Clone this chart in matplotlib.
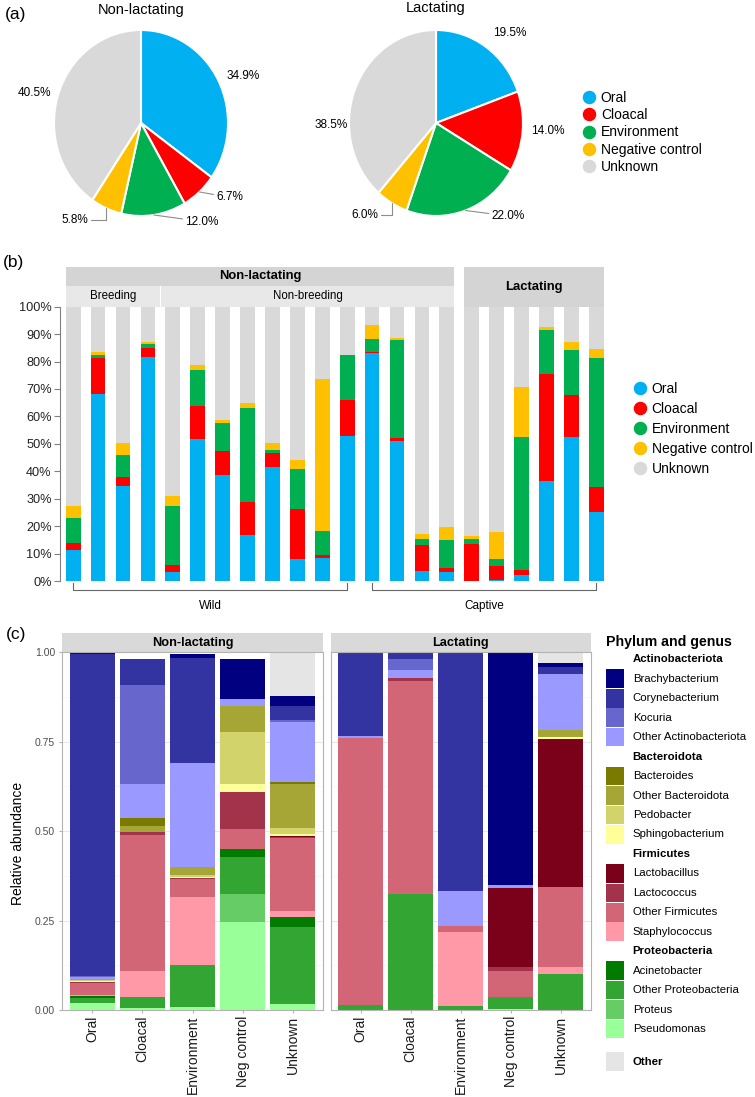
import numpy as np
import matplotlib
matplotlib.use("Agg")
import matplotlib.pyplot as plt
import matplotlib.transforms as mtransforms
from matplotlib.lines import Line2D
from matplotlib.patches import Rectangle

plt.rcParams['font.family'] = ['Liberation Sans', 'DejaVu Sans']

W, H = 755, 1097

# ---------------- data ----------------
sources = ['Oral', 'Cloacal', 'Environment', 'Negative control', 'Unknown']
source_colors = ['#00b0f0', '#ff0000', '#00b050', '#ffc000', '#d9d9d9']

# (a) mean source proportions (%)
pie_nonlact = [34.9, 6.7, 12.0, 5.8, 40.5]
pie_lact = [19.5, 14.0, 22.0, 6.0, 38.5]

# (b) per-sample source proportions (%), 16 non-lactating + 6 lactating
oral_b = [11.3, 68.0, 34.8, 81.8, 3.3, 51.8, 38.6, 16.8, 41.6, 8.0, 8.4, 53.0,
          83.0, 51.0, 3.8, 3.4, 0.0, 0.2, 2.2, 36.6, 52.4, 25.3]
cloacal_b = [2.4, 13.4, 3.0, 3.3, 2.7, 12.1, 8.9, 12.1, 4.9, 18.2, 1.1, 12.9,
             0.4, 1.2, 9.3, 1.5, 13.5, 5.4, 1.9, 38.7, 15.5, 8.8]
env_b = [9.4, 0.9, 8.1, 1.3, 21.5, 13.0, 10.2, 34.3, 1.3, 14.6, 8.7, 16.5,
         4.8, 35.5, 2.1, 10.0, 1.9, 2.4, 48.5, 16.2, 16.3, 47.1]
neg_b = [4.2, 1.2, 4.5, 0.6, 3.5, 1.8, 1.0, 1.8, 2.6, 3.4, 55.4, 0.0,
         5.2, 1.0, 1.8, 4.9, 1.1, 9.7, 18.2, 1.2, 2.8, 3.2]
unknown_b = list(100 - np.array(oral_b) - np.array(cloacal_b)
                 - np.array(env_b) - np.array(neg_b))

# (c) relative abundance per source group
# columns: non-lactating Oral..Unknown, then lactating Oral..Unknown
groups_c = ['Oral', 'Cloacal', 'Environment', 'Neg control', 'Unknown']
brachybacterium = [0.001, 0, 0.010, 0.111, 0.028, 0, 0, 0, 0.648, 0.011]
corynebacterium = [0.902, 0.072, 0.295, 0, 0.040, 0.232, 0.017, 0.663, 0, 0.022]
kocuria = [0.001, 0.278, 0, 0, 0.004, 0, 0.030, 0, 0, 0]
other_actino = [0.007, 0.095, 0.291, 0.019, 0.168, 0.005, 0.022, 0.099, 0.007, 0.155]
bacteroides = [0, 0.022, 0, 0, 0.007, 0, 0, 0, 0, 0]
other_bacteroidota = [0.003, 0.016, 0.021, 0.073, 0.121, 0, 0, 0, 0, 0.019]
pedobacter = [0.002, 0, 0.006, 0.145, 0.017, 0, 0, 0, 0, 0]
sphingobacterium = [0.002, 0, 0.003, 0.023, 0.006, 0, 0, 0, 0, 0.007]
lactobacillus = [0, 0, 0, 0, 0.003, 0, 0, 0, 0.223, 0.412]
lactococcus = [0.003, 0.008, 0.004, 0.102, 0.004, 0, 0.007, 0, 0.009, 0]
other_firmicutes = [0.035, 0.380, 0.050, 0.058, 0.204, 0.747, 0.597, 0.017, 0.073, 0.224]
staphylococcus = [0.002, 0.073, 0.189, 0, 0.017, 0, 0, 0.207, 0, 0.020]
acinetobacter = [0.005, 0, 0, 0.022, 0.026, 0, 0, 0, 0, 0]
other_proteo = [0.014, 0.032, 0.117, 0.104, 0.216, 0.013, 0.324, 0.011, 0.033, 0.101]
proteus = [0, 0, 0, 0.077, 0, 0, 0, 0, 0, 0]
pseudomonas = [0.020, 0.005, 0.009, 0.246, 0.017, 0, 0, 0, 0.004, 0]
other_c = [0, 0, 0, 0, 0.119, 0, 0, 0, 0, 0.026]

genera = [
    ('Brachybacterium', brachybacterium, '#000080'),
    ('Corynebacterium', corynebacterium, '#3333a1'),
    ('Kocuria', kocuria, '#6666cc'),
    ('Other Actinobacteriota', other_actino, '#9999ff'),
    ('Bacteroides', bacteroides, '#7a7a00'),
    ('Other Bacteroidota', other_bacteroidota, '#a6a637'),
    ('Pedobacter', pedobacter, '#d3d36b'),
    ('Sphingobacterium', sphingobacterium, '#ffff99'),
    ('Lactobacillus', lactobacillus, '#7b001a'),
    ('Lactococcus', lactococcus, '#a3334a'),
    ('Other Firmicutes', other_firmicutes, '#d26677'),
    ('Staphylococcus', staphylococcus, '#ff99a8'),
    ('Acinetobacter', acinetobacter, '#007b00'),
    ('Other Proteobacteria', other_proteo, '#33a533'),
    ('Proteus', proteus, '#66cc66'),
    ('Pseudomonas', pseudomonas, '#99ff99'),
]
other_color = '#e5e5e5'
phyla = {'Actinobacteriota': 0, 'Bacteroidota': 4, 'Firmicutes': 8, 'Proteobacteria': 12}


def box(x0, y0, x1, y1):
    # pixel box (top-left origin) -> figure fraction rect
    return [x0 / W, 1 - y1 / H, (x1 - x0) / W, (y1 - y0) / H]


fig = plt.figure(figsize=(W / 100, H / 100), dpi=100)

# ---------------- (a) pies ----------------
RX, RY = 87, 93


def draw_pie(cx, cy, vals, title, title_y, label_pos, leaders):
    ax = fig.add_axes(box(cx - 1.35 * RX, cy - 1.35 * RY, cx + 1.35 * RX, cy + 1.35 * RY))
    ax.pie(vals, colors=source_colors, startangle=90, counterclock=False, radius=1,
           wedgeprops=dict(edgecolor='white', linewidth=1.5))
    ax.set_aspect('auto')
    ax.set_xlim(-1.35, 1.35)
    ax.set_ylim(-1.35, 1.35)
    ax.axis('off')
    cum = np.concatenate([[0], np.cumsum(vals)])
    total = sum(vals)
    for i, v in enumerate(vals):
        mid = np.deg2rad(90 - (cum[i] + v / 2) / total * 360)
        tx, ty = label_pos[i]
        if leaders[i]:
            ax.annotate(f'{v:.1f}%', xy=(np.cos(mid), np.sin(mid)), xytext=(tx, ty),
                        ha='center', va='center', fontsize=8.5,
                        arrowprops=dict(arrowstyle='-', color='#8c8c8c', lw=0.8,
                                        shrinkA=0, shrinkB=0, connectionstyle=leaders[i]))
        else:
            ax.text(tx, ty, f'{v:.1f}%', ha='center', va='center', fontsize=8.5)
    # title sits above the pie (pixel offset from centre -> pie units)
    ax.text(0, (cy - title_y) / RY, title, ha='center', va='center', fontsize=10.5)


draw_pie(141, 123, pie_nonlact, 'Non-lactating', 10,
         [(1.17, 0.51), (1.02, -0.80), (0.70, -1.06), (-0.76, -1.04), (-1.23, 0.32)],
         [None, 'arc3', 'arc3', 'angle,angleA=0,angleB=90', None])
draw_pie(436, 123, pie_lact, 'Lactating', 8,
         [(0.85, 0.97), (1.28, -0.09), (0.83, -1.0), (-0.82, -0.99), (-1.2, -0.02)],
         [None, None, 'arc3', 'angle,angleA=0,angleB=90', None])

handles = [Line2D([], [], marker='o', ls='', color=c, markersize=8.7) for c in source_colors]
fig.legend(handles, sources, loc='center left', bbox_to_anchor=(582 / W, 1 - 132.5 / H),
           frameon=False, fontsize=10, handlelength=1.0, handletextpad=0.35,
           labelspacing=0.23, borderpad=0, borderaxespad=0)

# ---------------- (b) stacked bars ----------------
ax_b = fig.add_axes(box(60, 306.7, 604, 581))
xb = np.arange(len(oral_b))
bottom = np.zeros(len(oral_b))
for vals, c in zip([oral_b, cloacal_b, env_b, neg_b, unknown_b], source_colors):
    ax_b.bar(xb, vals, 0.59, bottom=bottom, color=c, linewidth=0)
    bottom += np.array(vals)
ax_b.set_xlim(-0.53, 21.31)
ax_b.set_ylim(0, 100)
ax_b.set_yticks(range(0, 101, 10))
ax_b.set_yticklabels([f'{t}%' for t in range(0, 101, 10)])
ax_b.tick_params(axis='y', length=4, width=0.8, color='#808080', labelsize=9.2,
                 labelcolor='#222222', pad=2)
ax_b.set_xticks([])
for s in ['top', 'right', 'bottom']:
    ax_b.spines[s].set_visible(False)
ax_b.spines['left'].set_color('#808080')
ax_b.spines['left'].set_linewidth(0.8)

tr = mtransforms.blended_transform_factory(ax_b.transData, ax_b.transAxes)
top1, mid1 = 1.1447, 1.0755
ax_b.add_patch(Rectangle((-0.295, mid1), 15.59, top1 - mid1, transform=tr,
                         clip_on=False, color='#d4d4d4', lw=0))
ax_b.add_patch(Rectangle((-0.295, 1.0), 3.765, mid1 - 1.0, transform=tr,
                         clip_on=False, color='#e8e8e8', lw=0))
ax_b.add_patch(Rectangle((3.53, 1.0), 11.765, mid1 - 1.0, transform=tr,
                         clip_on=False, color='#e8e8e8', lw=0))
ax_b.add_patch(Rectangle((15.705, 1.0), 5.59, top1 - 1.0, transform=tr,
                         clip_on=False, color='#d4d4d4', lw=0))
ax_b.text(7.5, (top1 + mid1) / 2, 'Non-lactating', transform=tr, ha='center',
          va='center', fontsize=9.4, fontweight='bold')
ax_b.text(1.59, (mid1 + 1) / 2, 'Breeding', transform=tr, ha='center', va='center', fontsize=8.3)
ax_b.text(9.41, (mid1 + 1) / 2, 'Non-breeding', transform=tr, ha='center', va='center', fontsize=8.3)
ax_b.text(18.5, (top1 + 1) / 2, 'Lactating', transform=tr, ha='center', va='center',
          fontsize=9.4, fontweight='bold')

for x0, x1, lab in [(0, 11, 'Wild'), (12, 21, 'Captive')]:
    ax_b.plot([x0, x0, x1, x1], [-0.007, -0.033, -0.033, -0.007], transform=tr,
              clip_on=False, color='#666666', lw=0.8)
    ax_b.text((x0 + x1) / 2, -0.09, lab, transform=tr, ha='center', va='center', fontsize=8.5)

fig.legend(handles, sources, loc='center left', bbox_to_anchor=(633 / W, 1 - 429 / H),
           frameon=False, fontsize=10, handlelength=1.0, handletextpad=0.35,
           labelspacing=0.44, borderpad=0, borderaxespad=0)

# ---------------- (c) genus composition ----------------
for k, (x0, x1, title) in enumerate([(62, 323, 'Non-lactating'), (330.7, 590.7, 'Lactating')]):
    ax = fig.add_axes(box(x0, 652.3, x1, 1010))
    bottom = np.zeros(5)
    stack = list(reversed(genera)) + [('Other', other_c, other_color)]
    for name, vals, c in stack:
        v = np.array(vals[k * 5:(k + 1) * 5])
        ax.bar(np.arange(5), v, 0.9, bottom=bottom, color=c, linewidth=0, zorder=2)
        bottom += v
    ax.set_xlim(-0.6, 4.6)
    ax.set_ylim(0, 1)
    ax.set_yticks([0, 0.25, 0.5, 0.75, 1.0])
    ax.set_yticks([0.125, 0.375, 0.625, 0.875], minor=True)
    ax.yaxis.grid(True, which='major', color='#e6e6e6', lw=0.7, zorder=0)
    ax.yaxis.grid(True, which='minor', color='#f2f2f2', lw=0.4, zorder=0)
    ax.set_axisbelow(True)
    ax.set_xticks(np.arange(5))
    ax.set_xticklabels(groups_c, rotation=90, fontsize=10, color='#1a1a1a')
    ax.tick_params(axis='x', length=2.5, color='#b3b3b3', pad=1.5)
    ax.tick_params(axis='y', which='minor', length=0)
    if k == 0:
        ax.set_yticklabels(['0.00', '0.25', '0.50', '0.75', '1.00'])
        ax.tick_params(axis='y', which='major', length=2.5, color='#b3b3b3',
                       labelsize=7.5, labelcolor='#4d4d4d', pad=2.5)
    else:
        ax.tick_params(axis='y', which='major', length=0, labelleft=False)
    for s in ax.spines.values():
        s.set_color('#b3b3b3')
        s.set_linewidth(0.8)
    ax.add_patch(Rectangle((0, 1.0), 1, 0.054, transform=ax.transAxes, clip_on=False,
                           color='#d9d9d9', lw=0))
    ax.text(0.5, 1.027, title, transform=ax.transAxes, ha='center', va='center',
            fontsize=9.2, fontweight='bold')

fig.text(18.5 / W, 1 - 843 / H, 'Relative abundance', rotation=90, ha='center',
         va='center', fontsize=10)

# legend for (c)
ax_l = fig.add_axes(box(590, 620, 755, 1097))
ax_l.set_xlim(0, 165)
ax_l.set_ylim(477, 0)
ax_l.axis('off')
ax_l.text(16, 21.7, 'Phylum and genus', fontsize=10.2, fontweight='bold', va='center')
row = 0
step = 19.46
for phylum, start in phyla.items():
    ax_l.text(42.7, 39.3 + row * step, phylum, fontsize=8.2, fontweight='bold', va='center')
    row += 1
    for name, vals, c in genera[start:start + 4]:
        y = 39.3 + row * step
        ax_l.add_patch(Rectangle((16, y - 9.3), 18.3, 18.6, color=c, lw=0))
        ax_l.text(42.7, y, name, fontsize=8.2, va='center')
        row += 1
y = 39.3 + 20.68 * step
ax_l.add_patch(Rectangle((16, y - 9.3), 18.3, 18.6, color=other_color, lw=0))
ax_l.text(42.7, y, 'Other', fontsize=8.2, fontweight='bold', va='center')

# panel letters
fig.text(5 / W, 1 - 15 / H, '(a)', fontsize=12.5, va='center')
fig.text(3 / W, 1 - 263 / H, '(b)', fontsize=12.5, va='center')
fig.text(6 / W, 1 - 635 / H, '(c)', fontsize=12.5, va='center')

fig.savefig('out.png', dpi=100)
